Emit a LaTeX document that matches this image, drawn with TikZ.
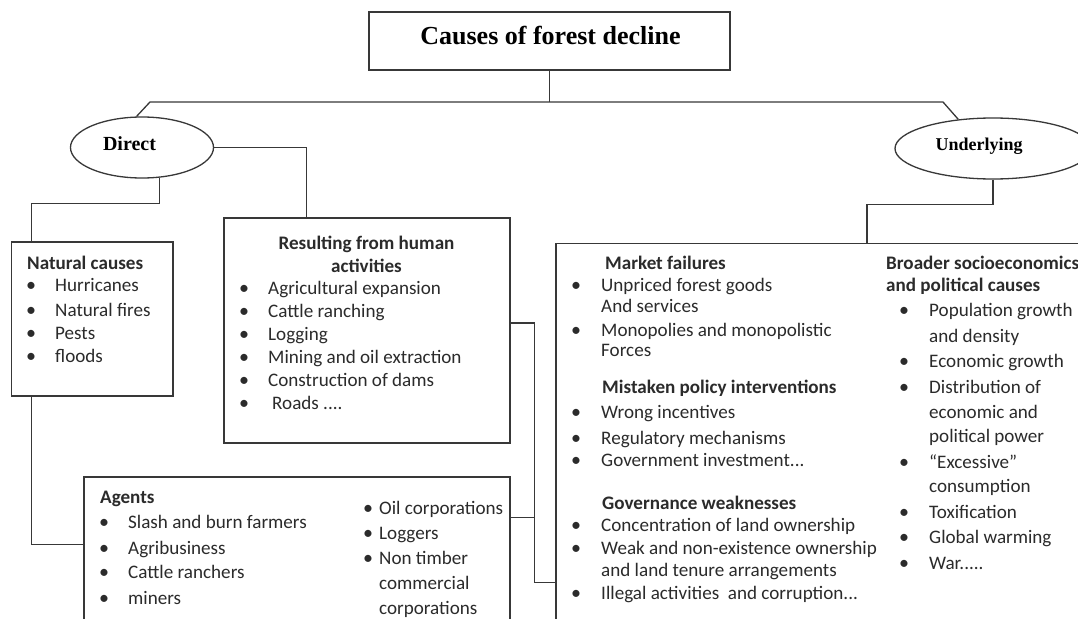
\documentclass[tikz,border=0pt]{standalone}
\usepackage{fontspec}
\usetikzlibrary{shapes.geometric}
\newfontfamily\cfont{Carlito}
\newfontfamily\sfont{Liberation Serif}
\definecolor{linec}{gray}{0.22}
\definecolor{textc}{gray}{0.17}
\begin{document}
\begin{tikzpicture}[x=1pt,y=-1pt,
  box/.style={draw=linec, line width=1.3pt, rectangle, inner sep=0pt},
  oval/.style={draw=linec, line width=1.3pt, ellipse, inner sep=0pt},
  lnk/.style={draw=linec, line width=1.3pt},
  tx/.style={anchor=base west, inner sep=0pt, text=textc, font=\cfont\fontsize{19.1}{23}\selectfont},
  tb/.style={anchor=base west, inner sep=0pt, text=textc, font=\cfont\bfseries\fontsize{19.1}{23}\selectfont},
  tc/.style={anchor=base, inner sep=0pt, text=textc, font=\cfont\bfseries\fontsize{19.1}{23}\selectfont},
  bu/.style={anchor=base, inner sep=0pt, text=textc, font=\cfont\fontsize{20}{24}\selectfont},
  serifb/.style={anchor=base, inner sep=0pt, text=black, font=\sfont\bfseries\fontsize{20}{24}\selectfont}
]
\useasboundingbox (0,0) rectangle (1078,618);
\fill[white] (0,0) rectangle (1078,618);
\clip (0,0) rectangle (1078,618);

% boxes and ovals
\node[box, minimum width=361pt, minimum height=58pt] (title) at (549.5,41) {};
\node[oval, minimum width=143pt, minimum height=61pt] (direct) at (142,147.5) {};
\node[oval, minimum width=196pt, minimum height=61pt] (underlying) at (993,148.5) {};
\node[box, minimum width=161.6pt, minimum height=154pt] (natural) at (92.2,319) {};
\node[box, minimum width=286pt, minimum height=225pt] (resulting) at (367,330.5) {};
\node[box, minimum width=426pt, minimum height=160pt] (agents) at (297,557) {};
\node[box, minimum width=544pt, minimum height=396.5pt] (underbox) at (828,441.75) {};

% titles of top elements
\node[serifb, font=\sfont\bfseries\fontsize{26}{30}\selectfont] (titletext) at (550.5,45) {Causes of forest decline};
\node[serifb] (directtext) at (129.5,150) {Direct};
\node[serifb, font=\sfont\bfseries\fontsize{18}{22}\selectfont] (undtext) at (979,150) {Underlying};

% connectors
\coordinate (hl) at (150,102);
\coordinate (hr) at (943,102);
\draw[lnk] (title.south) -- (title.south |- hl);
\draw[lnk] (direct.100) -- (hl) -- (hr) -- (underlying.140);
\draw[lnk] (direct.east) -| ([xshift=-60.5pt]resulting.north);
\draw[lnk] (direct.-60) -- ++(0,26) -| ([xshift=-60.5pt]natural.north);
\draw[lnk] ([xshift=-60.5pt]natural.south) |- ([yshift=-68pt]agents.north west);
\draw[lnk] ([yshift=7.5pt]resulting.east) -- ++(24,0) coordinate (rj) |- ([yshift=-339.5pt]underbox.north west);
\draw[lnk] ([yshift=-41pt]agents.north east) -- ++(24,0) coordinate (aj);
\draw[lnk] (underlying.south) -- ++(0,25) -| ([xshift=39pt]underbox.north);

% Natural causes
\node[tb] (nat0) at (27,269) {Natural causes};
\node[bu] (natb1) at (31,291) {•}; \node[tx] (nat1) at (55,291) {Hurricanes};
\node[bu] (natb2) at (31,316) {•}; \node[tx] (nat2) at (55,316) {Natural fires};
\node[bu] (natb3) at (31,339) {•}; \node[tx] (nat3) at (55,339) {Pests};
\node[bu] (natb4) at (31,362) {•}; \node[tx] (nat4) at (55,362) {floods};

% Resulting from human activities
\node[tc] (res0) at (366.5,249) {Resulting from human};
\node[tc] (res0b) at (366.5,272) {activities};
\node[bu] (resb1) at (244,294) {•}; \node[tx] (res1) at (268,294) {Agricultural expansion};
\node[bu] (resb2) at (244,317) {•}; \node[tx] (res2) at (268,317) {Cattle ranching};
\node[bu] (resb3) at (244,340) {•}; \node[tx] (res3) at (268,340) {Logging};
\node[bu] (resb4) at (244,363) {•}; \node[tx] (res4) at (268,363) {Mining and oil extraction};
\node[bu] (resb5) at (244,386) {•}; \node[tx] (res5) at (268,386) {Construction of dams};
\node[bu] (resb6) at (244,409) {•}; \node[tx] (res6) at (272,409) {Roads ....};

% Agents
\node[tb] (ag0) at (100,503) {Agents};
\node[bu] (agb1) at (104,528) {•}; \node[tx] (ag1) at (128,528) {Slash and burn farmers};
\node[bu] (agb2) at (104,554) {•}; \node[tx] (ag2) at (128,554) {Agribusiness};
\node[bu] (agb3) at (104,578) {•}; \node[tx] (ag3) at (128,578) {Cattle ranchers};
\node[bu] (agb4) at (104,604) {•}; \node[tx] (ag4) at (128,604) {miners};
\node[bu] (agc1) at (368,514) {•}; \node[tx] (agr1) at (379,514) {Oil corporations};
\node[bu] (agc2) at (368,539) {•}; \node[tx] (agr2) at (379,539) {Loggers};
\node[bu] (agc3) at (368,564) {•}; \node[tx] (agr3) at (379,564) {Non timber};
\node[tx] (agr4) at (379,589) {commercial};
\node[tx] (agr5) at (379,614) {corporations};

% Underlying: left column
\node[tb] (mf0) at (605,269) {Market failures};
\node[bu] (mfb1) at (576,291) {•}; \node[tx] (mf1) at (601,291) {Unpriced forest goods};
\node[tx] (mf1b) at (601,312) {And services};
\node[bu] (mfb2) at (576,336) {•}; \node[tx] (mf2) at (601,336) {Monopolies and monopolistic};
\node[tx] (mf2b) at (601,356) {Forces};
\node[tb] (mp0) at (602,393) {Mistaken policy interventions};
\node[bu] (mpb1) at (576,418) {•}; \node[tx] (mp1) at (601,418) {Wrong incentives};
\node[bu] (mpb2) at (576,444) {•}; \node[tx] (mp2) at (601,444) {Regulatory mechanisms};
\node[bu] (mpb3) at (576,466) {•}; \node[tx] (mp3) at (601,466) {Government investment...};
\node[tb] (gw0) at (602,509) {Governance weaknesses};
\node[bu] (gwb1) at (576,531) {•}; \node[tx] (gw1) at (601,531) {Concentration of land ownership};
\node[bu] (gwb2) at (576,554) {•}; \node[tx] (gw2) at (601,554) {Weak and non-existence ownership};
\node[tx] (gw2b) at (601,576) {and land tenure arrangements};
\node[bu] (gwb3) at (576,599) {•}; \node[tx] (gw3) at (601,599) {Illegal activities\ \ and corruption...};

% Underlying: right column
\node[tb] (br0) at (886,269) {Broader socioeconomics};
\node[tb] (br0b) at (886,291) {and political causes};
\node[bu] (brb1) at (904,316) {•}; \node[tx] (br1) at (929,316) {Population growth};
\node[tx] (br1b) at (929,342) {and density};
\node[bu] (brb2) at (904,367) {•}; \node[tx] (br2) at (929,367) {Economic growth};
\node[bu] (brb3) at (904,393) {•}; \node[tx] (br3) at (929,393) {Distribution of};
\node[tx] (br3b) at (929,418) {economic and};
\node[tx] (br3c) at (929,442) {political power};
\node[bu] (brb4) at (904,468) {•}; \node[tx] (br4) at (929,468) {“Excessive”};
\node[tx] (br4b) at (929,492) {consumption};
\node[bu] (brb5) at (904,518) {•}; \node[tx] (br5) at (929,518) {Toxification};
\node[bu] (brb6) at (904,543) {•}; \node[tx] (br6) at (929,543) {Global warming};
\node[bu] (brb7) at (904,569) {•}; \node[tx] (br7) at (929,569) {War.....};
\end{tikzpicture}
\end{document}
